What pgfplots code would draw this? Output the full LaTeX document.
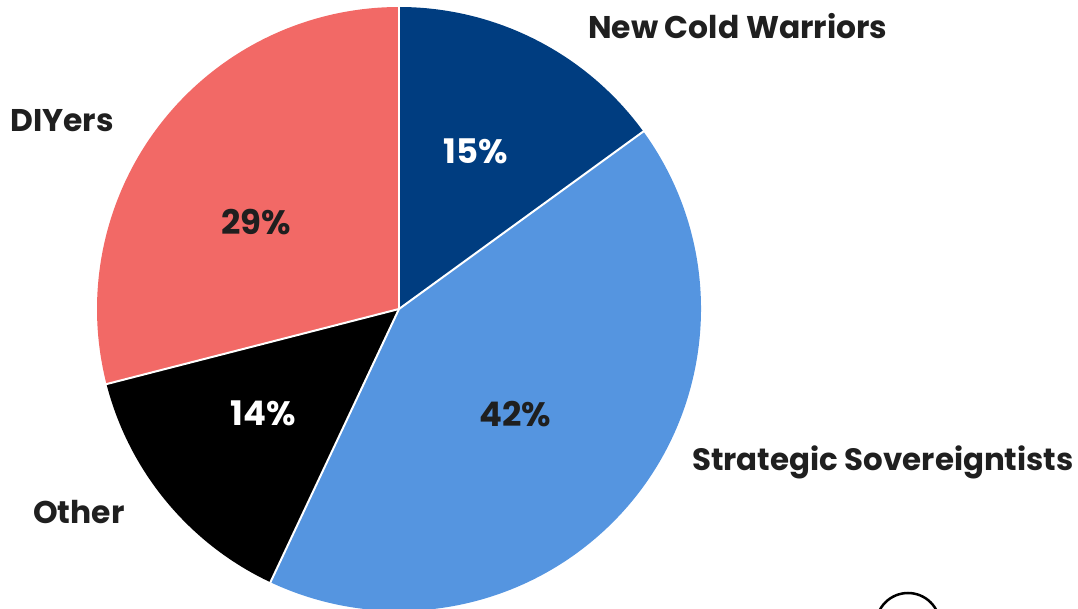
\documentclass[border=0pt]{standalone}
\usepackage{pgfplots}
\pgfplotsset{compat=1.18}
\usepackage{pgfplotstable}
\usepackage{fontspec}
\setmainfont{Poppins}

\definecolor{cNCW}{HTML}{003D80}
\definecolor{cSS}{HTML}{5595E0}
\definecolor{cOth}{HTML}{000000}
\definecolor{cDIY}{HTML}{F26966}
\definecolor{txt}{HTML}{1F1F1F}

% shares in percent, clockwise from 12 o'clock
\pgfplotstableread[col sep=comma]{
value,col
15,cNCW
42,cSS
14,cOth
29,cDIY
}\piedata

\tikzset{lbl/.style={inner sep=0pt, font=\fontsize{31.5}{38}\selectfont\bfseries},
         pct/.style={inner sep=0pt, font=\fontsize{34}{40}\selectfont\bfseries}}

\begin{document}
\begin{tikzpicture}
\useasboundingbox (0,0) rectangle (1078bp,609bp);
\clip (0,0) rectangle (1078bp,609bp);
\begin{axis}[
    at={(0,0)}, anchor=south west,
    scale only axis, width=1078bp, height=609bp,
    xmin=0, xmax=1078, ymin=0, ymax=609,
    hide axis, clip=false,
]
\pgfplotsextra{
  \xdef\start{90}
  \pgfplotstableforeachcolumnelement{value}\of\piedata\as\v{%
    \pgfplotstablegetelem{\pgfplotstablerow}{col}\of\piedata
    \let\c\pgfplotsretval
    \pgfmathsetmacro\stop{\start-3.6*\v}%
    \fill[\c] (axis cs:399,300) -- ++(\start:302bp)
      arc[start angle=\start, end angle=\stop, radius=302bp] -- cycle;
    \xdef\start{\stop}%
  }
  % white separators
  \xdef\start{90}
  \pgfplotstableforeachcolumnelement{value}\of\piedata\as\v{%
    \draw[white, line width=2bp] (axis cs:399,300) -- ++(\start:303bp);
    \pgfmathsetmacro\stop{\start-3.6*\v}%
    \xdef\start{\stop}%
  }
  \draw[black, line width=2.5bp] (axis cs:908,-16) circle[radius=32bp];
}

\node[pct, text=white] at (axis cs:476,458) {15\%};
\node[pct, text=txt] at (axis cs:515,195) {42\%};
\node[pct, text=white] at (axis cs:263,196) {14\%};
\node[pct, text=txt] at (axis cs:256,387) {29\%};

\node[lbl, text=txt, anchor=base west] at (axis cs:588,570) {New Cold Warriors};
\node[lbl, text=txt, anchor=base west] at (axis cs:10,477) {DIYers};
\node[lbl, text=txt, anchor=base west] at (axis cs:33,86) {Other};
\node[lbl, text=txt, anchor=base west, font=\fontsize{31}{38}\selectfont\bfseries] at (axis cs:692,138) {Strategic Sovereigntists};
\end{axis}
\end{tikzpicture}
\end{document}
